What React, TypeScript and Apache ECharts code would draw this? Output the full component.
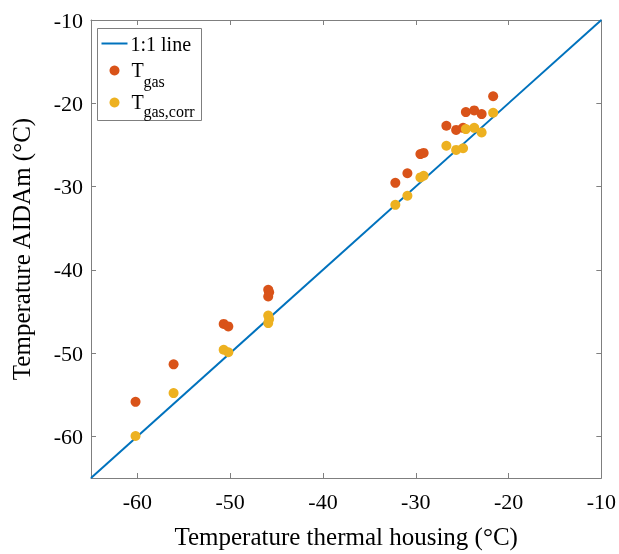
import React, { useEffect, useRef } from "react";
import * as echarts from "echarts";

// Thermal housing temperature (°C) vs. AIDAm gas temperature (°C)
const housingTemp: number[] = [
  -60.2, -56.1, -50.7, -50.2, -45.9, -45.8, -45.9,
  -32.2, -30.9, -29.5, -29.15, -26.7, -25.65, -24.9, -24.6, -23.7, -22.9, -21.66,
];
const gasTemp: number[] = [
  -55.85, -51.35, -46.5, -46.8, -42.4, -42.7, -43.2,
  -29.55, -28.4, -26.1, -25.96, -22.7, -23.2, -22.95, -21.06, -20.86, -21.3, -19.16,
];
const gasTempCorr: number[] = [
  -59.96, -54.8, -49.6, -49.9, -45.5, -45.9, -46.4,
  -32.2, -31.1, -28.9, -28.7, -25.1, -25.6, -25.4, -23.1, -22.95, -23.5, -21.14,
];
const oneToOne: number[] = [-65, -10];
const tickValues: number[] = [-60, -50, -40, -30, -20, -10];

const FONT = "'Liberation Serif', 'Times New Roman', serif";
const BORDER = "#7f7f7f";

export default function App() {
  const ref = useRef<HTMLDivElement>(null);

  useEffect(() => {
    if (!ref.current) return;
    const chart = echarts.init(ref.current, undefined, { renderer: "svg" });

    const axisCommon = {
      type: "value" as const,
      min: -65,
      max: -10,
      splitLine: { show: false },
      axisLine: { show: true, onZero: false, lineStyle: { color: BORDER, width: 1 } },
      axisTick: { show: true, inside: true, length: 5, customValues: tickValues, lineStyle: { color: BORDER } },
    };

    chart.setOption({
      animation: false,
      grid: { left: 91, right: 16, top: 20, bottom: 70 },
      xAxis: [
        {
          ...axisCommon,
          position: "bottom",
          name: "Temperature thermal housing (°C)",
          nameLocation: "middle",
          nameGap: 46,
          nameTextStyle: { fontFamily: FONT, fontSize: 25, color: "#000" },
          axisLabel: { customValues: tickValues, fontFamily: FONT, fontSize: 22, color: "#000", margin: 12 },
        },
        {
          ...axisCommon,
          position: "top",
          axisLabel: { show: false },
        },
      ],
      yAxis: [
        {
          ...axisCommon,
          position: "left",
          name: "Temperature AIDAm (°C)",
          nameLocation: "middle",
          nameGap: 57,
          nameTextStyle: { fontFamily: FONT, fontSize: 25, color: "#000" },
          axisLabel: { customValues: tickValues, fontFamily: FONT, fontSize: 22, color: "#000", margin: 8 },
        },
        {
          ...axisCommon,
          position: "right",
          axisLabel: { show: false },
        },
      ],
      series: [
        {
          type: "line",
          data: oneToOne.map((v) => [v, v]),
          symbol: "none",
          lineStyle: { color: "#0072BD", width: 2 },
          z: 2,
        },
        {
          type: "scatter",
          data: housingTemp.map((x, i) => [x, gasTemp[i]]),
          symbolSize: 10,
          itemStyle: { color: "#D95319", opacity: 1 },
          z: 3,
        },
        {
          type: "scatter",
          data: housingTemp.map((x, i) => [x, gasTempCorr[i]]),
          symbolSize: 10,
          itemStyle: { color: "#EDB120", opacity: 1 },
          z: 4,
        },
      ],
      graphic: [
        {
          type: "group",
          left: 97,
          top: 28,
          children: [
            { type: "rect", shape: { x: 0, y: 0, width: 104, height: 92 }, style: { fill: "#fff", stroke: BORDER, lineWidth: 1 } },
            { type: "line", shape: { x1: 4, y1: 15, x2: 30, y2: 15 }, style: { stroke: "#0072BD", lineWidth: 2 } },
            { type: "text", x: 33, y: 15, style: { text: "1:1 line", font: `20px ${FONT}`, fill: "#000", verticalAlign: "middle" } },
            { type: "circle", shape: { cx: 17, cy: 42, r: 5 }, style: { fill: "#D95319" } },
            { type: "text", x: 34, y: 51, style: { text: "T", font: `20px ${FONT}`, fill: "#000", verticalAlign: "bottom" } },
            { type: "text", x: 46, y: 60.5, style: { text: "gas", font: `16px ${FONT}`, fill: "#000", verticalAlign: "bottom" } },
            { type: "circle", shape: { cx: 17, cy: 74, r: 5 }, style: { fill: "#EDB120" } },
            { type: "text", x: 34, y: 83, style: { text: "T", font: `20px ${FONT}`, fill: "#000", verticalAlign: "bottom" } },
            { type: "text", x: 46, y: 90.5, style: { text: "gas,corr", font: `16px ${FONT}`, fill: "#000", verticalAlign: "bottom" } },
          ],
        },
      ],
    });

    return () => chart.dispose();
  }, []);

  return <div ref={ref} style={{ position: "fixed", left: 0, top: 0, width: 619, height: 554 }} />;
}
